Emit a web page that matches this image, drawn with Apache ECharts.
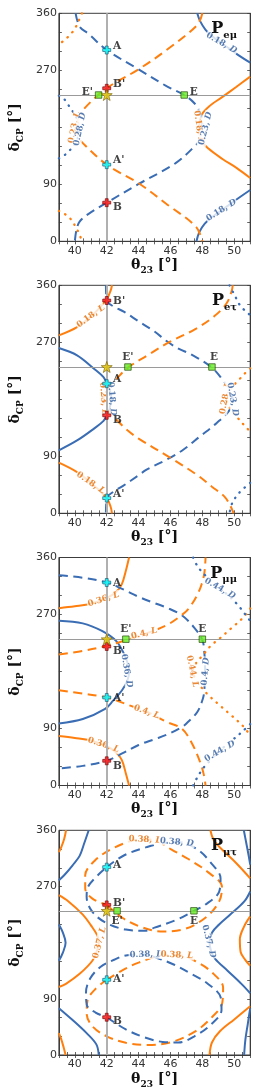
<!DOCTYPE html>
<html><head><meta charset="utf-8">
<script src="https://cdn.jsdelivr.net/npm/echarts@6/dist/echarts.min.js"></script>
<style>html,body{margin:0;padding:0;background:#fff}#c{width:272px;height:1090px}</style>
</head><body><div id="c"></div>
<script>
// ---------------- axis values ----------------
const thetaRange = [39, 51];
const deltaRange = [0, 360];
const thetaTickLabels = [40, 42, 44, 46, 48, 50];
const deltaTickLabels = [0, 90, 270, 360];
const refTheta = 42;
const refDelta = 231;
const panelTitles = [['P', 'eμ'], ['P', 'eτ'], ['P', 'μμ'], ['P', 'μτ']];

// ---------------- Panel 1 : P_eμ ----------------
const eMu_blueSolidUpper = [[47.68,360],[47.85,348],[48.2,334],[48.7,322],[49.26,312],[50.14,296],[51,282]];
const eMu_blueSolidLower = [[47.63,0],[47.8,14],[48.15,28],[48.7,40],[49.26,50],[50.14,66],[51,81]];
const eMu_orangeSolid = [[51,260],[50.14,244],[49.26,228],[48.4,212.6],[47.95,199.5],[47.8,180],[47.95,159],[48.4,146],[49.26,130],[50.14,116],[51,100]];
const eMu_blueDashed = [[40.05,360],[40.3,339],[40.84,328],[42,302],[44,271.6],[45.75,245],[46.86,231],[47.5,218],[47.86,202],[48.0,181],[47.82,160],[47.5,149.5],[46.3,123],[44,90.5],[42,61],[40.84,43],[40.3,31],[40.1,18],[40,0]];
const eMu_orangeDashed = [[48,360],[47.68,341.6],[45.75,302],[44,271.6],[42,241.6],[40.5,207],[40.2,191],[40.1,178],[40.2,165],[40.5,155],[42,121],[44,91.6],[45.75,59],[47.6,23],[48,0]];
const eMu_blueDotted = [[39,230],[39.35,224],[39.6,215],[39.88,204.7],[40.15,192],[40.25,178],[40.1,160],[39.88,149.5],[39.6,141.6],[39.35,136],[39,131]];
const eMu_orangeDottedUpper = [[40.45,360],[40.2,346],[39.96,334],[39.5,321],[39,311]];
const eMu_orangeDottedLower = [[39,48],[39.6,39],[40.05,23],[40.3,10],[40.45,0]];
const eMu_contourLabels = [['0.18', 'D', 49.2, 313], ['0.18', 'D', 49.2, 49], ['0.18', 'L', 47.77, 181], ['0.23', 'D', 48.2, 178], ['0.23', 'L', 39.98, 180], ['0.28', 'D', 40.32, 177]];
const eMu_points = [['A', 42, 302], ["A'", 42, 121], ['B', 42, 61], ["B'", 42, 241.6], ['E', 46.86, 231], ["E'", 41.49, 231], ['★', 42, 231]];

// ---------------- Panel 2 : P_eτ ----------------
const eTau_orangeSolidUpper = [[39,281],[40.14,294],[41.2,315],[42,338],[42.25,352],[42.33,360]];
const eTau_orangeSolidLower = [[39,80],[40.14,65],[41.2,44],[42,24],[42.25,10],[42.33,0]];
const eTau_blueSolid = [[39,261],[40.14,249.5],[41.2,228.4],[41.8,215],[42,205],[42.2,193],[42.3,181],[42.2,168],[42,155],[41.8,146],[41.2,133.7],[40.14,115],[39,99.5]];
const eTau_blueDashed = [[41.95,360],[42,336],[42.4,327],[43.1,318],[44,303],[45,287],[45.75,272],[46.5,260],[47.33,250.4],[48.6,230],[49.26,211],[49.7,195],[49.9,180],[49.7,163],[48.9,142.6],[47.86,121.6],[46.8,100.4],[45.75,84.6],[44.5,69],[44,60],[43,43],[42.4,33.7],[42,24],[41.95,0]];
const eTau_orangeDashed = [[49.9,360],[49.85,352],[49.53,332],[48.74,311],[47.5,290],[45.9,270],[44.6,250],[43.33,230],[42.6,212],[42.0,196],[41.8,181],[42.0,165],[42.6,148],[43.3,131],[44,118],[45.9,89],[47.7,60],[48.6,42],[49.4,26],[49.75,12],[49.96,0]];
const eTau_orangeDotted = [[51,229],[50.75,223],[50.3,211],[49.8,197],[49.5,182],[49.75,165],[50.2,151],[50.66,138],[51,129]];
const eTau_blueDottedUpper = [[49.7,360],[50.05,343],[50.4,327],[51,313]];
const eTau_blueDottedLower = [[51,48],[50.3,32],[49.87,16],[49.7,0]];
const eTau_contourLabels = [['0.18', 'L', 41.0, 311], ['0.18', 'L', 41.0, 48], ['0.18', 'D', 42.32, 181], ['0.23', 'L', 41.8, 181], ['0.28', 'L', 49.45, 182], ['0.23', 'D', 49.9, 180]];
const eTau_points = [['A', 42, 204.7], ["A'", 42, 24], ['B', 42, 154.7], ["B'", 42, 336], ['E', 48.6, 231], ["E'", 43.33, 231], ['★', 42, 231]];

// ---------------- Panel 3 : P_μμ ----------------
const muMu_orangeSolidUpper = [[39,280],[40,283],[41,287],[42,296],[42.6,306],[42.95,318],[43.2,339],[43.4,360]];
const muMu_orangeSolidLower = [[39,78],[40,75],[41,71],[42,62],[42.6,52],[42.95,40],[43.2,19],[43.4,0]];
const muMu_blueSolid = [[39,260],[40.5,256],[41.7,244],[42.6,228],[43.1,207],[43.35,190],[43.4,180],[43.3,166],[42.95,150],[42.4,134],[41.9,121],[40.5,105],[39,98]];
const muMu_blueDashed = [[39,332],[40.5,328],[42,320.5],[43,310],[44,298],[45,288],[45.75,281],[46.7,269],[47.5,249],[48,229.5],[48.12,211],[48.17,180],[48.12,150],[48.03,137],[47.68,116],[47,98],[46.7,92],[45.75,80],[45,73],[44,64],[43,51],[42,39],[40.5,31],[39,27]];
const muMu_orangeDashedUpper = [[39,207],[40.5,212.6],[42,220.5],[43.2,229.5],[44.35,239],[45.75,253],[46.7,269],[47.16,280],[47.77,305.7],[48.1,332],[48.2,360]];
const muMu_orangeDashedLower = [[39,150.5],[40.5,145],[42,139],[43.7,124],[44.5,117],[45.75,100.4],[46.7,90],[47.3,68.8],[47.86,37],[48.1,16],[48.2,0]];
const muMu_orangeDotted = [[51,279.5],[50.5,263.7],[49.8,248],[49.08,232],[48.56,221.5],[48.03,205.7],[47.6,193],[47.4,180],[47.6,167],[48.0,153],[48.38,142.6],[49.08,126.8],[49.8,111],[50.5,95],[51,79.5]];
const muMu_blueDottedUpper = [[47.42,360],[47.7,346],[48.1,334],[48.6,322],[49.5,303],[50.23,285],[50.66,271],[51,260]];
const muMu_blueDottedLower = [[51,97],[50.5,85],[49.8,70],[49,53],[48.3,35],[47.8,18],[47.42,0]];
const muMu_contourLabels = [['0.36', 'L', 41.8, 294], ['0.36', 'L', 41.8, 64], ['0.36', 'D', 43.25, 181], ['0.4', 'L', 44.35, 240], ['0.4', 'L', 44.5, 116], ['0.4', 'D', 48.2, 180], ['0.44', 'L', 47.37, 180], ['0.44', 'D', 49.1, 311], ['0.44', 'D', 49.1, 54]];
const muMu_points = [['A', 42, 320.5], ["A'", 42, 139], ['B', 42, 39], ["B'", 42, 219.5], ['E', 48, 231], ["E'", 43.2, 231], ['★', 42, 231]];

// ---------------- Panel 4 : P_μτ ----------------
const muTau_orangeEllipseUpper = [[42,240.5],[43.0,219.5],[44.07,206],[45.37,198],[46.77,201],[48.17,219.5],[49.05,245.7],[49.23,269],[48.35,293],[47.12,314],[46.07,329],[45.2,342],[44.4,346],[43.54,343],[42.3,330],[41.26,311.6],[40.65,288],[40.65,267],[41.08,251],[42,240.5]];
const muTau_blueEllipseUpper = [[42,301],[43.1,320],[44.5,333],[45.6,340],[46.5,341],[47.65,330],[48.5,309],[49.14,283],[49.05,261.5],[48.17,240.5],[47.47,231],[46.42,217],[45.0,204],[44.42,199],[43.2,201],[41.96,211.6],[41.08,230],[40.74,253.6],[40.82,269],[41.44,288],[42,301]];
const muTau_orangeEllipseLower = [[42,120.5],[43.0,136],[44.0,148],[45.4,159],[46.5,160],[47.8,147],[48.7,130],[49.3,108],[49.25,84],[48.5,58],[47.5,37],[46.1,21],[44.6,16],[43.2,19.5],[42.0,30],[41.1,46],[40.74,67],[40.8,88],[41.3,106],[42,120.5]];
const muTau_blueEllipseLower = [[42,60.5],[43.2,41],[44.4,28],[45.5,21],[46.5,20],[47.5,30],[48.5,48],[49.2,72],[49.15,92],[48.3,115],[47.3,130],[46.2,145],[45.0,157],[44.4,161],[43.3,160],[42.5,153],[41.6,141],[40.95,122],[40.7,100],[40.75,80],[41.3,68],[42,60.5]];
const muTau_orangeSolidLeftTop = [[39.45,360],[39.33,346],[39.15,333],[39,325]];
const muTau_orangeSolidLeftBottom = [[39,35],[39.15,25],[39.3,12],[39.42,0]];
const muTau_orangeSolidLeft = [[39,256],[39.6,246],[40.5,225],[41.0,208],[41.4,192],[41.5,180],[41.4,168],[41.1,151],[40.3,130],[39.44,114],[39,109]];
const muTau_blueSolidLeftTop = [[40.87,360],[40.6,340],[40.3,319],[39.86,304],[39.33,288],[39,280]];
const muTau_blueSolidLeftMid = [[39,209],[39.25,196],[39.42,180],[39.25,164],[39,151]];
const muTau_blueSolidLeftBottom = [[39,75],[39.86,56],[40.74,35],[41.35,17],[41.5,0]];
const muTau_blueSolidRightTop = [[50.6,360],[50.75,340],[50.9,320],[51,305]];
const muTau_blueSolidRight = [[51,262],[50.63,246],[49.75,225],[49.05,209],[48.6,196],[48.45,181],[48.55,166],[48.8,154],[49.58,135],[50.45,114],[51,99]];
const muTau_blueSolidRightBottom = [[51,75],[50.85,50],[50.7,25],[50.62,0]];
const muTau_orangeSolidRightTop = [[48.5,360],[48.7,345],[49.2,330],[50.1,308],[51,283]];
const muTau_orangeSolidRightMid = [[51,222],[50.6,205],[50.35,185],[50.4,165],[50.7,152],[51,143]];
const muTau_orangeSolidRightBottom = [[48.45,0],[48.6,20],[49.1,38],[50.0,57],[51,78]];
const muTau_contourLabels = [['0.38', 'L', 44.4, 345], ['0.38', 'D', 46.4, 341], ['0.38', 'D', 44.5, 161], ['0.38', 'L', 46.4, 160], ['0.37', 'L', 41.55, 180], ['0.37', 'D', 48.4, 182]];
const muTau_points = [['A', 42, 301], ["A'", 42, 120.5], ['B', 42, 60.5], ["B'", 42, 240.5], ['E', 47.47, 231], ["E'", 42.65, 231], ['★', 42, 231]];

// ---------------- styles / layout ----------------
const BLUE = '#3a6db4', ORANGE = '#ff7f0e';
const BLUE_TXT = '#2f5c9e', ORANGE_TXT = '#e56d07';
const PANEL_TOPS = [13.3, 285.3, 557.5, 830.3];
const GRID_LEFT = 21.7, GRID_W = 228.5, GRID_H = 228;

const panelCurves = [
  [[eMu_blueSolidUpper,BLUE,'solid'],[eMu_blueSolidLower,BLUE,'solid'],[eMu_orangeSolid,ORANGE,'solid'],
   [eMu_blueDashed,BLUE,'dashed'],[eMu_orangeDashed,ORANGE,'dashed'],[eMu_blueDotted,BLUE,'dotted'],
   [eMu_orangeDottedUpper,ORANGE,'dotted'],[eMu_orangeDottedLower,ORANGE,'dotted']],
  [[eTau_orangeSolidUpper,ORANGE,'solid'],[eTau_orangeSolidLower,ORANGE,'solid'],[eTau_blueSolid,BLUE,'solid'],
   [eTau_blueDashed,BLUE,'dashed'],[eTau_orangeDashed,ORANGE,'dashed'],[eTau_orangeDotted,ORANGE,'dotted'],
   [eTau_blueDottedUpper,BLUE,'dotted'],[eTau_blueDottedLower,BLUE,'dotted']],
  [[muMu_orangeSolidUpper,ORANGE,'solid'],[muMu_orangeSolidLower,ORANGE,'solid'],[muMu_blueSolid,BLUE,'solid'],
   [muMu_blueDashed,BLUE,'dashed'],[muMu_orangeDashedUpper,ORANGE,'dashed'],[muMu_orangeDashedLower,ORANGE,'dashed'],
   [muMu_orangeDotted,ORANGE,'dotted'],[muMu_blueDottedUpper,BLUE,'dotted'],[muMu_blueDottedLower,BLUE,'dotted']],
  [[muTau_orangeEllipseUpper,ORANGE,'dashed'],[muTau_blueEllipseUpper,BLUE,'dashed'],
   [muTau_orangeEllipseLower,ORANGE,'dashed'],[muTau_blueEllipseLower,BLUE,'dashed'],
   [muTau_orangeSolidLeftTop,ORANGE,'solid'],[muTau_orangeSolidLeftBottom,ORANGE,'solid'],[muTau_orangeSolidLeft,ORANGE,'solid'],
   [muTau_blueSolidLeftTop,BLUE,'solid'],[muTau_blueSolidLeftMid,BLUE,'solid'],[muTau_blueSolidLeftBottom,BLUE,'solid'],
   [muTau_blueSolidRightTop,BLUE,'solid'],[muTau_blueSolidRight,BLUE,'solid'],[muTau_blueSolidRightBottom,BLUE,'solid'],
   [muTau_orangeSolidRightTop,ORANGE,'solid'],[muTau_orangeSolidRightMid,ORANGE,'solid'],[muTau_orangeSolidRightBottom,ORANGE,'solid']]
];
const panelLabels = [eMu_contourLabels, eTau_contourLabels, muMu_contourLabels, muTau_contourLabels];
const panelLabelRot = [[-30, 32, -82, 76, 78, 78], [36, -34, -85, -85, 80, -80], [18, -18, -80, 14, -20, 85, -78, -30, 30], [-3, -5, 2, -3, 75, -75]];
const panelPoints = [eMu_points, eTau_points, muMu_points, muTau_points];
const pointLabelPlace = [
  {A:['right',0,-4],"A'":['right',0,-4],B:['right',0,5],"B'":['right',0,-4],E:['right',0,-3],"E'":['left',0,-3]},
  {A:['right',0,-4],"A'":['right',0,-4],B:['right',0,5],"B'":['right',0,1],E:['top',2,1],"E'":['top',0,1]},
  {A:['right',0,1],"A'":['right',0,1],B:['right',0,5],"B'":['right',0,5],E:['top',0,1],"E'":['top',0,1]},
  {A:['right',0,-2],"A'":['right',0,-1],B:['right',0,4],"B'":['right',0,-2],E:['bottom',0,-1],"E'":['bottom',0,-1]}
];

const PLUS = 'path://M32,0H68V32H100V68H68V100H32V68H0V32H32Z';
const STAR = 'path://M50,0L61.76,33.82L97.55,34.55L69.02,56.18L79.39,90.45L50,70L20.61,90.45L30.98,56.18L2.45,34.55L38.24,33.82Z';
function markerStyle(name) {
  const base = name[0];
  if (name === '★') return {symbol: STAR, symbolSize: 11, itemStyle: {color: '#e2c400', borderColor: '#7a6200', borderWidth: 0.8}};
  if (base === 'A') return {symbol: PLUS, symbolSize: 8, itemStyle: {color: '#00ffff', borderColor: '#1d4d6d', borderWidth: 0.8}};
  if (base === 'B') return {symbol: PLUS, symbolSize: 8, itemStyle: {color: '#ff1010', borderColor: '#700000', borderWidth: 0.8}};
  return {symbol: 'rect', symbolSize: 6.5, itemStyle: {color: '#66ee22', borderColor: '#1a3a00', borderWidth: 0.8}};
}

const serifBold = {fontFamily: 'DejaVu Serif', fontWeight: 'bold', color: '#111'};

const grids = [], xAxes = [], yAxes = [], series = [], titles = [];
PANEL_TOPS.forEach((top, i) => {
  grids.push({left: GRID_LEFT, top: top, width: GRID_W, height: GRID_H, show: true, borderColor: '#3c3c3c', borderWidth: 1, backgroundColor: '#fff'});
});
for (let k = 0; k < 2; k++) {
  PANEL_TOPS.forEach((top, i) => {
    const main = k === 0;
    xAxes.push({
      type: 'value', gridIndex: i, min: thetaRange[0], max: thetaRange[1], interval: 0.5,
      position: main ? 'bottom' : 'top',
      axisLine: {show: true, lineStyle: {color: '#3c3c3c', width: 1}},
      axisTick: {show: true, inside: true, length: 3, lineStyle: {color: '#3c3c3c', width: 0.8}},
      splitLine: {show: false},
      axisLabel: {show: main, margin: 4, fontFamily: 'DejaVu Sans', fontSize: 11, color: '#333',
        showMinLabel: true, showMaxLabel: true,
        formatter: v => thetaTickLabels.includes(v) ? String(v) : ''},
      name: main ? '{t|θ}{s|23}{t| [°]}' : '',
      nameLocation: 'middle', nameGap: 17,
      nameTextStyle: {rich: {
        t: Object.assign({fontSize: 14, verticalAlign: 'bottom', padding: [0, 0, 3, 0]}, serifBold),
        s: Object.assign({fontSize: 9, verticalAlign: 'bottom'}, serifBold)}}
    });
    yAxes.push({
      type: 'value', gridIndex: i, min: deltaRange[0], max: deltaRange[1], interval: 30,
      position: main ? 'left' : 'right',
      axisLine: {show: true, lineStyle: {color: '#3c3c3c', width: 1}},
      axisTick: {show: true, inside: true, length: 3, lineStyle: {color: '#3c3c3c', width: 0.8}},
      splitLine: {show: false},
      axisLabel: {show: main, margin: 2, fontFamily: 'DejaVu Sans', fontSize: 11, color: '#333',
        showMinLabel: true, showMaxLabel: true,
        formatter: v => deltaTickLabels.includes(v) ? String(v) : ''},
      name: main ? '{t|δ}{s|CP}{t| [°]}' : '',
      nameLocation: 'middle', nameGap: 6,
      nameTextStyle: {rich: {
        t: Object.assign({fontSize: 14, verticalAlign: 'bottom', padding: [0, 0, 3, 0]}, serifBold),
        s: Object.assign({fontSize: 9, verticalAlign: 'bottom'}, serifBold)}}
    });
  });
}

PANEL_TOPS.forEach((top, i) => {
  // reference lines
  series.push({type: 'scatter', xAxisIndex: i, yAxisIndex: i, data: [], z: 1, silent: true,
    markLine: {silent: true, symbol: 'none', animation: false, label: {show: false},
      data: [{xAxis: refTheta, lineStyle: {color: '#b0b0b0', width: 2, type: 'solid'}},
             {yAxis: refDelta, lineStyle: {color: '#9a9a9a', width: 1, type: 'solid'}}]}});
  // contours
  panelCurves[i].forEach(([data, color, kind]) => {
    const ls = {color: color, width: 2};
    if (kind === 'dashed') ls.type = [9, 5.5];
    if (kind === 'dotted') { ls.type = [0.5, 6.5]; ls.cap = 'round'; ls.width = 2.3; }
    series.push({type: 'line', xAxisIndex: i, yAxisIndex: i, data: data, showSymbol: false, symbol: 'none',
      smooth: 0.35, lineStyle: ls, z: 3, silent: true});
  });
  // contour labels
  series.push({type: 'scatter', xAxisIndex: i, yAxisIndex: i, z: 4, silent: true, symbolSize: 1,
    itemStyle: {color: 'rgba(0,0,0,0)'},
    data: panelLabels[i].map((l, j) => {
      const col = l[1] === 'D' ? BLUE_TXT : ORANGE_TXT;
      return {value: [l[2], l[3]], label: {show: true, position: 'inside', rotate: panelLabelRot[i][j],
        formatter: '{n|' + l[0] + ', }{i|' + l[1] + '}',
        backgroundColor: '#fff', padding: [0, 1],
        rich: {n: {fontFamily: 'DejaVu Serif', fontWeight: 'bold', fontSize: 8.5, color: col},
               i: {fontFamily: 'DejaVu Serif', fontWeight: 'bold', fontStyle: 'italic', fontSize: 8.5, color: col}}}};
    })});
  // points
  series.push({type: 'scatter', xAxisIndex: i, yAxisIndex: i, z: 6, silent: true,
    data: panelPoints[i].map(p => {
      const m = markerStyle(p[0]);
      const place = pointLabelPlace[i][p[0]];
      const item = {value: [p[1], p[2]], symbol: m.symbol, symbolSize: m.symbolSize, itemStyle: m.itemStyle};
      if (place) item.label = Object.assign({show: true, formatter: p[0], position: place[0], distance: 2,
        offset: [place[1], place[2]], fontSize: 10.5}, serifBold);
      return item;
    })});
  titles.push({text: '{p|' + panelTitles[i][0] + '}{s|' + panelTitles[i][1] + '}', right: 30, top: top + 3,
    textStyle: {rich: {p: Object.assign({fontSize: 16, verticalAlign: 'bottom', padding: [0, 0, 3, 0]}, serifBold),
                       s: Object.assign({fontSize: 10, verticalAlign: 'bottom'}, serifBold)}}});
});

const chart = echarts.init(document.getElementById('c'), null, {renderer: 'canvas'});
chart.setOption({animation: false, backgroundColor: '#fff', title: titles, grid: grids, xAxis: xAxes, yAxis: yAxes, series: series});
</script></body></html>
